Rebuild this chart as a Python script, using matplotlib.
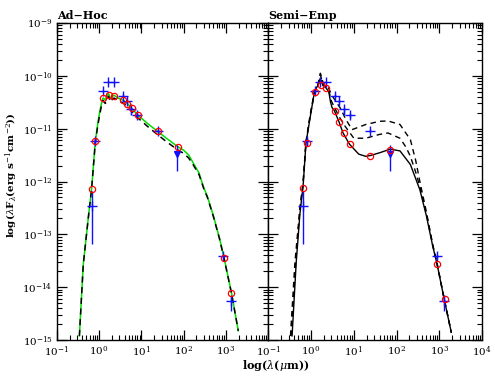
import matplotlib
matplotlib.use('Agg')
import matplotlib.pyplot as plt
from matplotlib.ticker import LogLocator, NullFormatter

plt.rcParams['font.family'] = 'DejaVu Serif'
plt.rcParams['mathtext.fontset'] = 'dejavuserif'

# observed photometry (same in both panels)
obs_wl = [0.66, 0.81, 1.25, 1.65, 2.2, 3.6, 4.5, 5.8, 8.0, 24, 870, 1300]
obs_flux = [3.4e-13, 5.8e-12, 5.2e-11, 7.7e-11, 7.5e-11, 4.2e-11, 3.3e-11, 2.4e-11, 1.8e-11, 9.2e-12, 3.9e-14, 5.5e-15]
obs_lo = [6.5e-14, 5.0e-12, 5.0e-11, 7.5e-11, 7.3e-11, 4.0e-11, 3.1e-11, 1.8e-11, 1.6e-11, 8.5e-12, 3.6e-14, 3.5e-15]
obs_hi = [6.5e-13, 6.6e-12, 5.5e-11, 8.0e-11, 7.8e-11, 4.5e-11, 3.5e-11, 2.6e-11, 2.0e-11, 1.0e-11, 4.3e-14, 7.0e-15]
lim_wl = [71]
lim_flux = [3.3e-12]
lim_lo = [1.6e-12]
lim_hi = [5.0e-12]

# model fluxes at the observed bands
band_wl = [0.66, 0.81, 1.25, 1.67, 2.2, 3.7, 4.6, 5.9, 8.1, 24, 72, 880, 1330]
adhoc_band = [7.2e-13, 5.8e-12, 3.8e-11, 4.4e-11, 4.2e-11, 3.5e-11, 2.9e-11, 2.5e-11, 1.8e-11, 8.9e-12, 4.5e-12, 3.5e-14, 7.8e-15]
semi_band = [7.5e-13, 5.3e-12, 5.0e-11, 6.7e-11, 5.9e-11, 2.2e-11, 1.35e-11, 8.3e-12, 5.1e-12, 3.1e-12, 4.0e-12, 2.8e-14, 5.9e-15]

# Ad-Hoc model SEDs
ah_wl = [0.34, 0.42, 0.55, 0.66, 0.81, 0.92, 1.02, 1.12, 1.23, 1.40, 1.55, 1.67, 1.85, 2.05, 2.24, 2.8,
         3.8, 4.8, 5.7, 8.2, 14, 24, 40, 71, 100, 130, 160, 230, 300, 360, 500, 700, 900, 1350, 1950]
ah_green = [1.2e-15, 2.7e-14, 2.0e-13, 7.2e-13, 5.8e-12, 1.2e-11, 2.0e-11, 2.9e-11, 3.8e-11, 3.5e-11, 4.3e-11,
            4.6e-11, 3.7e-11, 4.1e-11, 4.3e-11, 3.8e-11, 3.4e-11, 2.9e-11, 2.5e-11, 1.8e-11, 1.25e-11, 8.9e-12,
            6.5e-12, 4.6e-12, 3.9e-12, 3.2e-12, 2.4e-12, 1.45e-12, 7.5e-13, 5.3e-13, 2.3e-13, 8.5e-14, 3.6e-14,
            7.8e-15, 1.5e-15]
ah_dash = [1.2e-15, 2.7e-14, 2.0e-13, 7.0e-13, 5.6e-12, 1.1e-11, 1.8e-11, 2.6e-11, 3.4e-11, 3.0e-11, 3.8e-11,
           4.1e-11, 3.2e-11, 3.6e-11, 3.8e-11, 3.4e-11, 3.0e-11, 2.6e-11, 2.2e-11, 1.6e-11, 1.1e-11, 7.7e-12,
           5.6e-12, 4.0e-12, 3.4e-12, 2.8e-12, 2.2e-12, 1.35e-12, 7.2e-13, 5.1e-13, 2.2e-13, 8.3e-14, 3.5e-14,
           7.6e-15, 1.5e-15]

# Semi-Emp model SEDs
se_wl = [0.36, 0.45, 0.55, 0.65, 0.76, 0.96, 1.2, 1.45, 1.65, 1.9, 2.2, 2.6, 2.85, 3.1, 3.5, 4.5, 5.6, 7.9,
         13, 19, 24, 40, 71, 120, 210, 350, 500, 700, 880, 1300, 1900]
se_solid = [1.2e-15, 3.0e-14, 2.5e-13, 8.0e-13, 5.3e-12, 1.7e-11, 5.0e-11, 6.7e-11, 9.0e-11, 6.5e-11, 6.0e-11,
            5.0e-11, 3.2e-11, 2.5e-11, 2.2e-11, 1.35e-11, 8.3e-12, 5.1e-12, 3.3e-12, 3.0e-12, 3.1e-12, 3.5e-12,
            4.1e-12, 3.8e-12, 2.1e-12, 7.0e-13, 2.2e-13, 6.0e-14, 2.8e-14, 5.9e-15, 1.4e-15]
se_mid_wl = [0.34, 0.45, 0.55, 0.65, 0.76, 0.96, 1.2, 1.45, 1.65, 1.9, 2.2, 2.6, 3.0, 4.5, 6.3, 10, 19, 40,
             63, 120, 165, 210, 280, 350, 500, 700, 880, 1300, 1900]
se_mid = [1.2e-15, 4.0e-14, 3.0e-13, 9.0e-13, 5.5e-12, 1.8e-11, 4.8e-11, 6.5e-11, 1.05e-10, 7.0e-11, 6.3e-11,
          5.3e-11, 3.3e-11, 1.7e-11, 1.1e-11, 6.6e-12, 6.6e-12, 7.8e-12, 8.3e-12, 6.6e-12, 4.5e-12, 3.0e-12,
          1.5e-12, 8.0e-13, 2.4e-13, 6.2e-14, 2.8e-14, 5.9e-15, 1.4e-15]
se_top_wl = [0.33, 0.42, 0.55, 0.65, 0.76, 0.96, 1.2, 1.45, 1.65, 1.9, 2.2, 2.6, 3.0, 4.9, 6.5, 9.1, 19, 40,
             63, 120, 210, 280, 350, 500, 700, 880, 1300, 1900]
se_top = [1.2e-15, 3.0e-14, 3.2e-13, 9.5e-13, 5.6e-12, 1.9e-11, 5.0e-11, 6.8e-11, 1.12e-10, 7.5e-11, 6.5e-11,
          5.8e-11, 4.4e-11, 2.4e-11, 1.5e-11, 9.6e-12, 1.2e-11, 1.38e-11, 1.4e-11, 1.2e-11, 6.2e-12, 2.5e-12,
          1.0e-12, 2.6e-13, 6.4e-14, 2.9e-14, 6.0e-15, 1.4e-15]

fig = plt.figure(figsize=(4.95, 3.83), dpi=100)
ax1 = fig.add_axes([0.115, 0.112, 0.427, 0.828])
ax2 = fig.add_axes([0.542, 0.112, 0.432, 0.828])

blue = '#1010ff'


def draw_obs(ax):
    ax.errorbar(obs_wl, obs_flux,
                yerr=[[f - l for f, l in zip(obs_flux, obs_lo)], [h - f for f, h in zip(obs_flux, obs_hi)]],
                fmt='+', color=blue, ms=7, mew=1.0, elinewidth=1.0, capsize=0, zorder=5)
    ax.errorbar(lim_wl, lim_flux,
                yerr=[[f - l for f, l in zip(lim_flux, lim_lo)], [h - f for f, h in zip(lim_flux, lim_hi)]],
                fmt='v', color=blue, ms=4, elinewidth=1.0, capsize=0, zorder=5)


# left panel
ax1.plot(ah_wl, ah_green, color='#00dd00', lw=1.1, zorder=2)
ax1.plot(ah_wl, ah_dash, color='black', lw=1.1, ls=(0, (4, 3)), zorder=3)
draw_obs(ax1)
ax1.plot(band_wl, adhoc_band, 'o', mfc='none', mec='red', ms=4.5, mew=0.9, zorder=6)

# right panel
ax2.plot(se_top_wl, se_top, color='black', lw=1.0, ls=(0, (4, 3)), zorder=2)
ax2.plot(se_mid_wl, se_mid, color='black', lw=1.0, ls=(0, (4, 3)), zorder=2)
ax2.plot(se_wl, se_solid, color='black', lw=1.0, zorder=3)
draw_obs(ax2)
ax2.plot(band_wl, semi_band, 'o', mfc='none', mec='red', ms=4.5, mew=0.9, zorder=6)

for ax in (ax1, ax2):
    ax.set_xscale('log')
    ax.set_yscale('log')
    ax.set_xlim(0.1, 1e4)
    ax.set_ylim(1e-15, 1e-9)
    ax.xaxis.set_major_locator(LogLocator(base=10, numticks=10))
    ax.xaxis.set_minor_locator(LogLocator(base=10, subs=range(2, 10), numticks=20))
    ax.yaxis.set_major_locator(LogLocator(base=10, numticks=10))
    ax.yaxis.set_minor_locator(LogLocator(base=10, subs=range(2, 10), numticks=20))
    ax.xaxis.set_minor_formatter(NullFormatter())
    ax.yaxis.set_minor_formatter(NullFormatter())
    ax.tick_params(which='both', direction='in', top=True, right=True, labelsize=7.5)
    ax.tick_params(which='major', length=7, width=0.9, pad=3)
    ax.tick_params(which='minor', length=3.5, width=0.8)
    for s in ax.spines.values():
        s.set_linewidth(1.0)

ax2.set_yticklabels([])
ax1.set_xticks([0.1, 1, 10, 100, 1000])
ax1.set_xticklabels(['$10^{-1}$', '$10^{0}$', '$10^{1}$', '$10^{2}$', '$10^{3}$'])

ax1.set_title('Ad\u2212Hoc', loc='left', fontsize=8, fontweight='bold', pad=3)
ax2.set_title('Semi\u2212Emp', loc='left', fontsize=8, fontweight='bold', pad=3)
ax1.set_ylabel(r'log($\lambda$F$_{\lambda}$(erg s$^{-1}$cm$^{-2}$))', fontsize=7.5, fontweight='bold')
ax1.yaxis.set_label_coords(-0.175, 0.52)
fig.text(0.556, 0.045, r'log($\lambda$($\mu$m))', fontsize=8, fontweight='bold', ha='center', va='center')

fig.savefig('out.png', dpi=100)
